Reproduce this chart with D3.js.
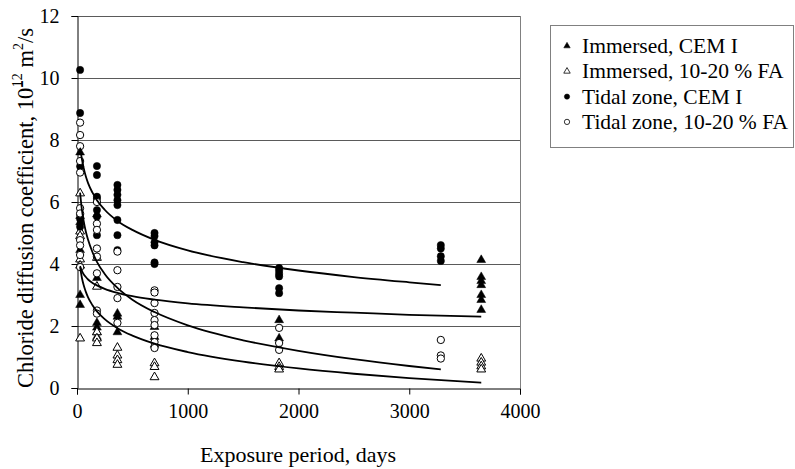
<!DOCTYPE html>
<html><head><meta charset="utf-8">
<script src="https://cdn.jsdelivr.net/npm/d3@7"></script>
<style>body{margin:0;background:#fff}</style>
</head><body>
<svg id="chart" width="795" height="469"></svg>
<script>
// ---- data ----
const xTicks = [0, 1000, 2000, 3000, 4000];
const yTicks = [0, 2, 4, 6, 8, 10, 12];
const seriesNames = ["Immersed, CEM I", "Immersed, 10-20 % FA", "Tidal zone, CEM I", "Tidal zone, 10-20 % FA"];

// [exposure days, chloride diffusion coefficient]
const immersedCem = [
  [28,7.6],[28,5.55],[28,5.35],[28,4.45],[28,3.0],[28,2.68],
  [180,5.6],[180,3.55],[180,2.1],[180,1.95],[180,1.8],[180,1.65],
  [365,2.4],[365,2.3],[365,1.8],
  [700,1.97],[700,1.65],[700,1.4],
  [1825,2.19],[1825,1.6],
  [3650,4.13],[3650,3.58],[3650,3.45],[3650,3.32],[3650,3.0],[3650,2.84],[3650,2.52]
];
const immersedFa = [
  [28,6.28],[28,5.05],[28,4.9],[28,4.15],[28,3.95],[28,1.6],
  [180,4.2],[180,3.27],[180,1.8],[180,1.6],[180,1.45],
  [365,1.3],[365,1.05],[365,0.9],[365,0.75],
  [700,0.8],[700,0.68],[700,0.35],
  [1825,0.8],[1825,0.68],[1825,0.6],
  [3650,0.95],[3650,0.82],[3650,0.7],[3650,0.6]
];
const tidalCem = [
  [28,10.26],[28,8.87],[28,7.15],[28,5.6],[28,5.45],[28,5.2],
  [180,7.16],[180,6.87],[180,6.17],[180,6.1],[180,5.74],[180,5.53],[180,4.93],
  [365,6.55],[365,6.39],[365,6.23],[365,6.06],[365,5.9],[365,5.42],[365,4.93],[365,4.45],
  [700,5.0],[700,4.9],[700,4.7],[700,4.6],[700,4.05],[700,4.0],
  [1825,3.87],[1825,3.78],[1825,3.68],[1825,3.6],[1825,3.22],[1825,3.06],
  [3285,4.61],[3285,4.5],[3285,4.25],[3285,4.1]
];
const tidalFa = [
  [28,8.56],[28,8.16],[28,7.8],[28,7.32],[28,6.95],[28,5.8],[28,5.63],[28,4.77],[28,4.6],[28,4.29],[28,3.9],
  [180,6.0],[180,5.3],[180,5.1],[180,4.5],[180,4.24],[180,3.7],[180,2.5],[180,2.4],
  [365,4.4],[365,3.8],[365,3.26],[365,2.9],[365,2.1],
  [700,3.15],[700,3.08],[700,2.74],[700,2.42],[700,2.19],[700,2.03],[700,1.7],[700,1.48],[700,1.29],
  [1825,1.94],[1825,1.45],[1825,1.23],
  [3285,1.55],[3285,1.05],[3285,0.95]
];

// trend curves, read at these days
const trendDays9  = [28,45,60,80,100,140,180,250,365,500,700,1000,1500,2000,2500,3000,3285];
const trendDays10 = [28,45,60,80,100,140,180,250,365,500,700,1000,1500,2000,2500,3000,3650];
const trendTidalCem   = [7.75,7.37,7.10,6.82,6.61,6.30,6.06,5.75,5.39,5.10,4.78,4.44,4.06,3.79,3.58,3.41,3.32];
const trendImmersedCem= [3.93,3.77,3.67,3.58,3.50,3.39,3.31,3.20,3.07,2.96,2.85,2.73,2.60,2.50,2.43,2.36,2.30];
const trendTidalFa    = [6.30,5.73,5.39,5.04,4.78,4.38,4.07,3.68,3.23,2.85,2.45,2.02,1.54,1.20,0.93,0.71,0.60];
const trendImmersedFa = [3.90,3.54,3.32,3.10,2.92,2.67,2.47,2.22,1.93,1.69,1.43,1.16,0.85,0.63,0.46,0.32,0.17];

// ---- drawing ----
const svg = d3.select("#chart");
svg.append("rect").attr("width",795).attr("height",469).attr("fill","#fff");
const font = "'Liberation Serif','Times New Roman',serif";
const x = d3.scaleLinear().domain([0,4000]).range([77,520]);
const y = d3.scaleLinear().domain([0,12]).range([388,16]);

// gridlines
svg.append("g").selectAll("line").data(yTicks.filter(d=>d>0)).join("line")
  .attr("x1",x(0)).attr("x2",x(4000)).attr("y1",d=>y(d)+0.5).attr("y2",d=>y(d)+0.5)
  .attr("stroke","#5a5a5a").attr("stroke-width",1);
// right border of plot area
svg.append("line").attr("x1",x(4000)+0.5).attr("x2",x(4000)+0.5).attr("y1",y(12)).attr("y2",y(0))
  .attr("stroke","#808080");

// axes
const xAxis = d3.axisBottom(x).tickValues(xTicks).tickSize(6).tickPadding(9).tickFormat(d3.format("d"));
const yAxis = d3.axisLeft(y).tickValues(yTicks).tickSize(6).tickPadding(12);
const gx = svg.append("g").attr("transform",`translate(0,${y(0)+0.5})`).call(xAxis);
const gy = svg.append("g").attr("transform",`translate(${x(0)+0.5},0)`).call(yAxis);
[gx,gy].forEach(g=>{
  g.select(".domain").attr("stroke","#000");
  g.selectAll(".tick line").attr("stroke","#000");
  g.selectAll("text").attr("font-family",font).attr("font-size",20).attr("fill","#000");
});

// markers
const triUp = d3.symbol().type(d3.symbolTriangle).size(34);
const circ = d3.symbol().type(d3.symbolCircle).size(42);
function drawSeries(data, gen, filled){
  svg.append("g").selectAll("path").data(data).join("path")
    .attr("d",gen)
    .attr("transform",d=>`translate(${x(d[0])},${y(d[1])})`)
    .attr("fill",filled?"#000":"#fff").attr("stroke","#000").attr("stroke-width",filled?0.5:1);
}
drawSeries(immersedCem, triUp, true);
drawSeries(immersedFa, triUp, false);
drawSeries(tidalCem, circ, true);
drawSeries(tidalFa, circ, false);

// trend lines
const line = d3.line().x(d=>x(d[0])).y(d=>y(d[1])).curve(d3.curveMonotoneX);
[[trendDays9,trendTidalCem],[trendDays10,trendImmersedCem],[trendDays9,trendTidalFa],[trendDays10,trendImmersedFa]]
  .forEach(([ds,vs])=>{
    svg.append("path").attr("d",line(ds.map((d,i)=>[d,vs[i]])))
      .attr("fill","none").attr("stroke","#000").attr("stroke-width",1.8);
  });

// x axis title
svg.append("text").attr("x",298).attr("y",462).attr("text-anchor","middle")
  .attr("font-family",font).attr("font-size",22).text("Exposure period, days");

// y axis title
const yt = svg.append("text").attr("transform","translate(33,208) rotate(-90)")
  .attr("text-anchor","middle").attr("font-family",font).attr("font-size",22.5);
yt.append("tspan").text("Chloride diffusion coefficient, 10");
yt.append("tspan").attr("dy",-5).text("-");
yt.append("tspan").attr("dx",-7).attr("dy",-6).attr("font-size",14).text("12");
yt.append("tspan").attr("dy",11).text(" m");
yt.append("tspan").attr("dy",-10).attr("font-size",14).text("2");
yt.append("tspan").attr("dy",10).text("/s");

// legend
const lg = svg.append("g");
lg.append("rect").attr("x",550.5).attr("y",25.5).attr("width",243).attr("height",122)
  .attr("fill","#fff").attr("stroke","#808080");
const legSyms = [
  [d3.symbol().type(d3.symbolTriangle).size(18), true],
  [d3.symbol().type(d3.symbolTriangle).size(18), false],
  [d3.symbol().type(d3.symbolCircle).size(22), true],
  [d3.symbol().type(d3.symbolCircle).size(22), false]
];
seriesNames.forEach((name,i)=>{
  const cy = 46 + i*25.3;
  lg.append("path").attr("d",legSyms[i][0]).attr("transform",`translate(567,${cy})`)
    .attr("fill",legSyms[i][1]?"#000":"#fff").attr("stroke","#000").attr("stroke-width",legSyms[i][1]?0.5:0.8);
  lg.append("text").attr("x",582).attr("y",cy+7).attr("font-family",font).attr("font-size",21.5).text(name);
});
</script>
</body></html>
